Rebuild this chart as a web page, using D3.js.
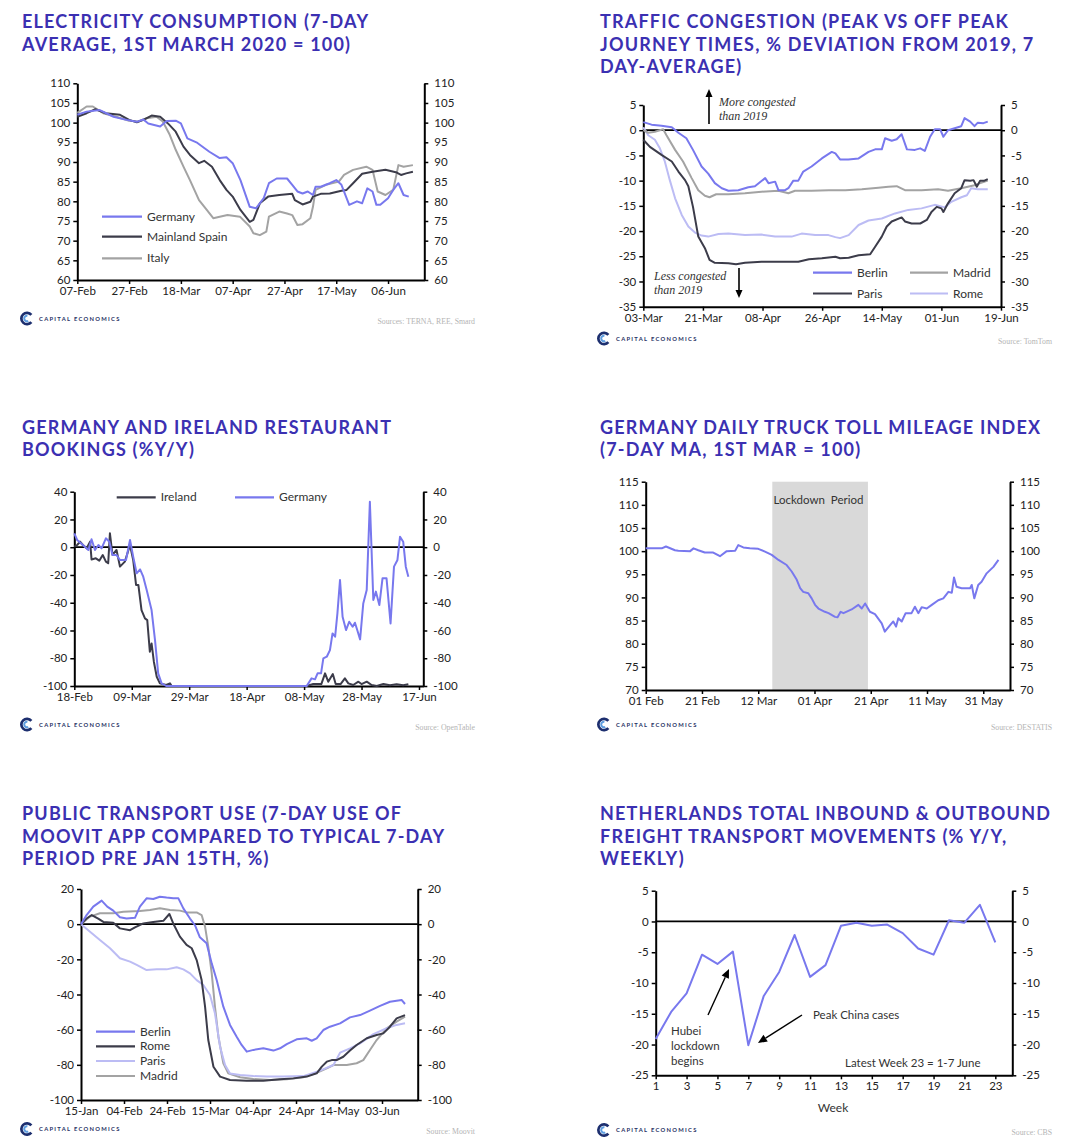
<!DOCTYPE html>
<html><head><meta charset="utf-8">
<script src="https://cdn.jsdelivr.net/npm/d3@7"></script>
<style>
body{margin:0;background:#fff;}
svg{display:block;}
.ax .domain{stroke:#000;stroke-width:2;}
.ax line{stroke:#000;stroke-width:1.5;}
.ax text{font-family:Lato,'Noto Sans',sans-serif;font-size:11.5px;fill:#222;}
</style></head><body>
<svg id="c" width="1067" height="1147"></svg>
<script>
// ---------------- DATA ----------------
// Panel 1: electricity consumption, [days after start, value]
const elecStart = "2020-02-07";
const elecTickLabels = ["07-Feb","27-Feb","18-Mar","07-Apr","27-Apr","17-May","06-Jun"];
const elecYTicks = [60,65,70,75,80,85,90,95,100,105,110];
const elecGermany = [[0,102.0],[3.6,102.8],[8.7,103.2],[14,101.5],[19,100.7],[23,100.2],[25.5,100.8],[27.4,99.8],[32,99.0],[34.5,100.4],[38,100.5],[40,99.8],[42.5,96.0],[46,95.0],[51,92.6],[55,91.0],[57.6,91.2],[60,89.7],[63,85.4],[66.6,78.6],[69,78.2],[72,80.8],[74,84.6],[77,85.8],[81,85.8],[83,84.2],[85,82.5],[87,82.0],[89,82.5],[91,81.6],[92,83.7],[94,83.7],[97.5,84.6],[100,85.4],[102,84.2],[105,79.1],[108,80.0],[110,79.5],[112,83.3],[114,82.5],[115.5,79.1],[117,79.1],[120,80.8],[122,82.9],[124,84.6],[126,81.6],[128,81.2]];
const elecSpain = [[0,101.5],[3.6,102.4],[7,103.4],[11,102.4],[16.5,102],[20,100.7],[23,100.1],[25.5,100.7],[28.7,101.8],[32,101.5],[35,99.8],[38,97.7],[41,93.9],[43.5,91.8],[47,89.7],[49,90.3],[52,88.8],[55,85.4],[57.6,82.9],[60,81.2],[63,77.8],[66.6,74.8],[68,75.3],[70.5,79.5],[73.7,81.2],[78,81.6],[83,81.9],[84,80.3],[87,79.2],[90,79.9],[91,81.2],[94,81.9],[97.5,82],[102,82.7],[104,82.9],[106.5,84.6],[110,87],[114,87.5],[119,88],[123,87.4],[125,86.7],[127,87.1],[129.6,87.5]];
const elecItaly = [[0,102.5],[3.6,104.1],[6,104.1],[10,102.4],[15,101.5],[20,100.5],[23.5,100.3],[26.8,101.1],[30.6,101.5],[33,100.3],[35.7,96.9],[38,93.1],[41,88.8],[43.5,85.4],[47,80.3],[50,77.8],[52.5,75.7],[55,76.1],[58,76.5],[62.8,76.1],[66.6,73.6],[68,71.9],[70.5,71.4],[73,72.3],[74,76.1],[78,77.4],[81,76.9],[83,76.5],[85,74],[87,74.2],[90,75.7],[91,78.6],[92,82.9],[96,84.2],[101,85],[103,86.7],[106.5,88],[111.6,88.8],[114,88],[116,82.5],[119,81.6],[122,82.9],[124,89.2],[126,88.8],[129.6,89.2]];

// Panel 2: traffic congestion
const trafficStart = "2020-03-03";
const trafficTickLabels = ["03-Mar","21-Mar","08-Apr","26-Apr","14-May","01-Jun","19-Jun"];
const trafficYTicks = [-35,-30,-25,-20,-15,-10,-5,0,5];
const trafficBerlin = [[0,1.6],[2.5,1.1],[5.5,0.9],[8.6,0.6],[10.6,-0.5],[13,-1.6],[15,-3.9],[17.6,-7.2],[19.6,-8.6],[21.6,-10.5],[23.7,-11.5],[25.7,-12],[28.7,-11.9],[31.7,-11.3],[33.7,-11.1],[36.8,-9.5],[37.8,-10.5],[39.8,-10.2],[40.8,-11.9],[42.8,-11.9],[43.8,-11.5],[45.3,-10],[46.8,-10],[48.3,-8.2],[50.8,-7.2],[53.9,-5.6],[56.9,-4.3],[58,-4.6],[59.4,-5.8],[61.9,-5.8],[65,-5.6],[68,-4.3],[70,-3.8],[72,-3.8],[73,-1.6],[75,-2.1],[76.5,-1.8],[78,-0.8],[79.6,-3.8],[82,-3.9],[83.6,-3.6],[85,-4.1],[86.6,-1.3],[88,0.2],[89.6,0.2],[90.6,-1.3],[92,0],[94,0.4],[96,0.8],[97,2.4],[98.7,1.7],[100,0.8],[101,1.5],[102.7,1.4],[104,1.7]];
const trafficMadrid = [[0,0],[1.5,-0.5],[3.5,-0.3],[6,0.2],[7,-1],[9.6,-3.9],[12,-6.2],[14.6,-9.5],[16.6,-11.9],[18.6,-13],[20,-13.3],[22,-12.7],[25.7,-12.7],[30.7,-12.5],[35.7,-12.2],[40.8,-12],[43.8,-12.5],[45.8,-12],[50.8,-12],[56,-11.9],[61,-11.9],[66,-11.7],[71,-11.4],[74,-11.2],[76.5,-11.1],[79,-11.9],[84,-11.9],[89,-11.7],[92,-12],[96,-11.5],[100,-10.9],[104,-10]];
const trafficParis = [[0,-1.9],[2,-3.3],[5.5,-4.9],[8.6,-6.2],[10.6,-8.2],[12.6,-9.9],[13.6,-11.1],[15,-15.2],[16.6,-21.1],[18.6,-23.4],[20,-25.7],[21.6,-26.3],[25.7,-26.4],[28,-26.6],[30.7,-26.3],[35.7,-26.1],[40.8,-26.1],[46.8,-26.1],[50,-25.6],[53.9,-25.4],[58,-25.1],[59.4,-25.4],[62,-25.3],[65,-24.8],[68.5,-24.6],[70,-23.1],[72,-21.1],[73.5,-19.1],[75,-18.1],[78,-17.3],[79,-18.1],[81,-18.5],[83.6,-18.5],[85.6,-17.8],[87,-16.2],[88.6,-15.2],[90,-15.5],[90.6,-16.2],[92,-14.5],[94,-12.5],[96,-11.5],[97,-9.9],[98.7,-10],[99.7,-9.9],[100.7,-11.2],[101.7,-10],[103,-10],[104,-9.7]];
const trafficRome = [[0,0.6],[1.5,-1],[3.5,-1.9],[5,-3.6],[6.5,-6.2],[8,-9.9],[9.6,-13.5],[11.6,-16.8],[13.6,-19.1],[15.6,-20.3],[17.6,-20.9],[19.6,-21.1],[22.7,-20.6],[25.7,-20.5],[30.7,-20.8],[35.7,-20.7],[39.8,-21.1],[44.8,-21.1],[47.8,-20.5],[51.9,-20.8],[55.9,-20.8],[58,-21.2],[59.4,-21.4],[62,-20.8],[65,-18.8],[68,-17.9],[72,-17.5],[76,-16.5],[80,-15.8],[84,-15.5],[88,-14.8],[91,-15.3],[93,-14.2],[96,-13.3],[97.7,-12.9],[99,-11.5],[101,-11.7],[104,-11.7]];

// Panel 3: restaurant bookings
const restStart = "2020-02-18";
const restTickLabels = ["18-Feb","09-Mar","29-Mar","18-Apr","08-May","28-May","17-Jun"];
const restYTicks = [-100,-80,-60,-40,-20,0,20,40];
const restIreland = [[0,0.4],[1,1.6],[2,4],[3,1.6],[4.3,-0.8],[5.5,4],[6,-8.8],[7.5,-8],[8.7,-9.7],[9.9,-5.6],[11,-10.4],[11.8,-11.6],[12.4,10],[13.3,-5.6],[14.7,-2],[15.9,-14],[17.6,-10.4],[19.4,1.6],[20.5,-9.2],[21.5,-27.2],[22.3,-27.2],[23.4,-45.3],[24.6,-51.3],[25.4,-52.5],[26.3,-75.3],[26.9,-69.3],[27.7,-82.5],[28.7,-93.3],[29.8,-98.1],[32,-99.3],[33.3,-98.1],[33.9,-100],[80.9,-100],[83.2,-98.6],[86,-98.6],[87.3,-90.9],[88.4,-96.9],[90,-91.4],[91,-98.6],[92.7,-98.6],[94.2,-94.5],[95.4,-98.1],[97.1,-99.3],[98.9,-96.9],[100,-98.6],[101.8,-96.9],[103.5,-99.3],[105.3,-100],[107.6,-98.6],[109.9,-99.5],[112.2,-98.8],[114.5,-99.5],[116.3,-98.8]];
const restGermany = [[0,10],[1,5.2],[3,1.6],[4.9,-2],[6,5.7],[7.2,-2],[8.4,1.6],[9.5,-0.8],[11,6.4],[12.2,4],[13.3,-5.6],[14.7,-5.6],[15.9,-9.2],[18,-9.2],[19.4,5.2],[20.5,-6.8],[21.7,-18.8],[22.9,-16],[24,-21.2],[25.2,-30.8],[26.9,-45.3],[28.1,-66.9],[29.2,-90.9],[30.4,-98.1],[32,-100],[80.9,-100],[82.6,-94.5],[83.8,-95.2],[84.7,-90.9],[85.9,-90.9],[86.7,-80.1],[87.9,-78.9],[89,-74.1],[89.9,-62.1],[90.8,-64.5],[91.6,-47.7],[92.5,-23.6],[93.4,-50.1],[94.6,-59.7],[95.7,-53.7],[96.9,-57.3],[97.7,-54.4],[98.5,-59.7],[99.5,-66.4],[100.6,-40.5],[101.8,-30.8],[102.9,32.8],[104.1,-38],[105,-32],[106.2,-41.7],[107.3,-22.4],[108.7,-22.4],[110.1,-54.9],[111.3,-14],[112.5,-9.2],[113.4,7.6],[114.5,4],[115.4,-14],[116.3,-21.2]];

// Panel 4: truck toll mileage index
const truckStart = "2020-02-01";
const truckTickLabels = ["01 Feb","21 Feb","12 Mar","01 Apr","21 Apr","11 May","31 May"];
const truckYTicks = [70,75,80,85,90,95,100,105,110,115];
const truckLockdown = ["2020-03-17","2020-04-20"];
const truckIndex = [[0,100.6],[5.7,100.6],[7.2,101],[10.4,100.2],[11.6,100.1],[15.8,100],[17,100.6],[18.7,100.2],[21,99.7],[24,99.7],[26.4,98.9],[28.8,100],[31.8,100.1],[32.9,101.3],[34.7,100.8],[37,100.6],[40,100.5],[42.4,99.9],[44.8,99.2],[47.2,98.1],[50.1,97],[51.9,95.6],[53.7,93.8],[54.9,92],[56,91.2],[57.8,90.9],[59,89.8],[60.2,88.4],[61.4,87.6],[63.7,86.9],[65,86.6],[67.3,85.8],[68.2,85.7],[69.3,86.9],[70.3,86.6],[73.2,87.4],[75.6,88.4],[76.8,87.6],[78,88.7],[79.7,86.9],[81.5,86.4],[83.9,84.4],[85,82.6],[87.4,84.4],[88,84.8],[89,83.7],[89.8,85.5],[91,84.8],[92.4,86.6],[94.5,86.6],[95.7,88],[96.9,86.6],[98.1,87.9],[99.9,87.6],[101.7,88.4],[104,89.4],[105.8,89.8],[107.6,91.2],[108.8,91],[109.6,94.3],[110.5,92.3],[112.3,92],[115.3,92],[115.9,92.7],[116.8,89.8],[118.2,92.7],[119.4,93.4],[121.2,95.2],[123.6,96.6],[125.4,98.1]];

// Panel 5: public transport use
const transStart = "2020-01-15";
const transTickLabels = ["15-Jan","04-Feb","24-Feb","15-Mar","04-Apr","24-Apr","14-May","03-Jun"];
const transYTicks = [-100,-80,-60,-40,-20,0,20];
const transBerlin = [[0,0],[2.6,5.2],[5.7,10],[9.6,13.4],[12.2,10],[15,7.7],[18.1,3.9],[21.2,3.2],[25.1,3.6],[27.4,10],[30.5,14.7],[33.6,14.3],[36.7,15.6],[39.8,15.1],[42.9,14.7],[45.3,14.7],[47.6,9],[50.7,3.2],[53,-0.6],[55.3,-7.5],[58.4,-10.9],[60.8,-22.3],[63.1,-31.8],[66.2,-46.9],[69.3,-57.3],[72.4,-64],[74.7,-68.7],[77.1,-72.5],[80.2,-71.5],[84.8,-70.6],[89.5,-71.9],[92.6,-70.6],[95.7,-68.2],[100.3,-65.5],[105,-64.9],[107.3,-66.3],[109.6,-64.9],[112.7,-60.2],[115.8,-58.3],[120.5,-56.4],[125.1,-53],[129.8,-51.7],[134.4,-49.2],[139.1,-46.5],[143.7,-44.1],[149.1,-43.1],[150.7,-45.4]];
const transRome = [[0,0],[2.6,3.2],[5,5.2],[8,3.2],[10.4,1.3],[15,0.8],[18.1,-2.4],[22.8,-3.4],[25.1,-1.8],[29,0.4],[33.6,1.3],[38.3,1.9],[41.1,5.8],[42.9,0.4],[46,-7.1],[49.1,-11.8],[51.5,-13.7],[53.8,-20.4],[56.1,-31.8],[57.7,-46.9],[59.2,-65.9],[61.6,-81.1],[64.7,-86.7],[69.3,-88.6],[77.1,-89],[84.8,-89],[92.6,-88.2],[98.8,-87.7],[105,-86.7],[109.6,-84.8],[112,-81],[114.3,-78.2],[116.6,-77.3],[118.9,-77.3],[122,-75.4],[125.1,-71.9],[128.2,-68.7],[132.9,-64.9],[137.5,-63],[140.6,-62.1],[143.7,-58.3],[146.8,-53.6],[150.7,-51.7]];
const transParis = [[0,0],[4.2,-4.3],[8.8,-9],[13.5,-13.7],[18.1,-19.4],[22.8,-21.3],[25.9,-23.2],[30.5,-26.1],[35.2,-25.7],[39.8,-25.7],[44.5,-24.5],[47.6,-25.7],[50.7,-28],[53.8,-31.8],[56.9,-34.6],[60,-40.3],[62.3,-50.7],[64.7,-69.8],[67,-80.1],[69.3,-84.9],[74,-85.8],[80.2,-86.4],[86.4,-86.7],[94.1,-86.7],[103.4,-86.4],[111.2,-83.3],[117.4,-80.1],[120.5,-73.1],[125.1,-70.6],[129.8,-67.8],[136,-62.5],[142.2,-59.2],[146.8,-57.3],[150.7,-56.4]];
const transMadrid = [[0,0],[4.2,4.3],[8.8,6.2],[15,6.2],[19.7,7.1],[27.4,7.5],[32.1,8.1],[36.7,9],[41.4,8.1],[46,7.7],[49.1,6.7],[53.8,6.7],[56.1,5.2],[57.7,-1.4],[59.2,-12.8],[60.8,-28],[62.3,-46.9],[63.9,-64],[66.2,-79.1],[68.5,-84.8],[74,-87.1],[80.2,-88.1],[87.9,-88.6],[95.7,-88.2],[103.4,-87.1],[109.6,-84.5],[114.3,-82],[117.4,-80.1],[123.6,-80.1],[128.2,-79.1],[131.3,-77.3],[134.4,-71.6],[137.5,-65.9],[142.2,-59.2],[146.8,-55.4],[150.7,-52.6]];

// Panel 6: Netherlands freight movements (% y/y) by week
const freightWeeks = [1,2,3,4,5,6,7,8,9,10,11,12,13,14,15,16,17,18,19,20,21,22,23];
const freightValues = [-19.1,-14.7,-11.7,-5.4,-6.9,-4.9,-20.1,-12.1,-8.2,-2.2,-9.0,-7.1,-0.7,-0.2,-0.7,-0.5,-1.9,-4.4,-5.4,0.2,-0.2,2.7,-3.4];
const freightTicks = [1,3,5,7,9,11,13,15,17,19,21,23];
const freightYTicks = [-25,-20,-15,-10,-5,0,5];

// Titles and sources
const titles = [
  ["ELECTRICITY CONSUMPTION (7-DAY","AVERAGE, 1ST MARCH 2020 = 100)"],
  ["TRAFFIC CONGESTION (PEAK VS OFF PEAK","JOURNEY TIMES, % DEVIATION FROM 2019, 7","DAY-AVERAGE)"],
  ["GERMANY AND IRELAND RESTAURANT","BOOKINGS (%Y/Y)"],
  ["GERMANY DAILY TRUCK TOLL MILEAGE INDEX","(7-DAY MA, 1ST MAR = 100)"],
  ["PUBLIC TRANSPORT USE (7-DAY USE OF","MOOVIT APP COMPARED TO TYPICAL 7-DAY","PERIOD PRE JAN 15TH, %)"],
  ["NETHERLANDS TOTAL INBOUND & OUTBOUND","FREIGHT TRANSPORT MOVEMENTS (% Y/Y,","WEEKLY)"]
];
const sources = ["Sources: TERNA, REE, Smard","Source: TomTom","Source: OpenTable","Source: DESTATIS","Source: Moovit","Source: CBS"];

// ---------------- STYLE ----------------
const BLUE = "#7878ee", DARK = "#3c3c4a", GREY = "#a3a3a3", LIGHT = "#bcbcf4";
const TITLE_COLOR = "#3b30b2";
const LABEL_FONT = "Lato,'Noto Sans',sans-serif";
const NOTE_FONT = "'Liberation Serif',serif";

const svg = d3.select("#c");

function toDate(start, d){ return new Date(new Date(start+"T00:00:00").getTime() + d*864e5); }

function drawTitle(lines, x, y0){
  const t = svg.append("text").attr("x",x).attr("y",y0)
    .attr("font-family","Lato,sans-serif").attr("font-weight","bold")
    .attr("font-size",18).attr("letter-spacing",1.2).attr("fill",TITLE_COLOR);
  lines.forEach((l,i)=>t.append("tspan").attr("x",x).attr("y",y0+i*22.6).text(l));
}

function drawLogo(cx, cy){
  const g = svg.append("g").attr("transform",`translate(${cx},${cy})`);
  g.append("path").attr("d", d3.arc().innerRadius(4.3).outerRadius(7).startAngle(Math.PI*0.72).endAngle(Math.PI*2.28)()).attr("fill","#1d2f6f");
  g.append("path").attr("d", d3.arc().innerRadius(1.8).outerRadius(3.8).startAngle(Math.PI*0.85).endAngle(Math.PI*2.05)()).attr("fill","#5f9ee0");
  g.append("text").attr("x",12).attr("y",2.2).text("CAPITAL ECONOMICS")
    .attr("font-family","Lato,sans-serif").attr("font-weight","bold").attr("font-size",5.8)
    .attr("letter-spacing",1.3).attr("fill","#263063");
}

function drawSource(txt, x, y){
  svg.append("text").attr("x",x).attr("y",y).attr("text-anchor","end").text(txt)
    .attr("font-family",NOTE_FONT).attr("font-size",7.8).attr("fill","#b4b4b4");
}

function arrow(g, x1,y1,x2,y2, hl, hw, sw){
  const a = Math.atan2(y2-y1, x2-x1);
  const bx = x2 - hl*Math.cos(a), by = y2 - hl*Math.sin(a);
  g.append("line").attr("x1",x1).attr("y1",y1).attr("x2",bx).attr("y2",by).attr("stroke","#000").attr("stroke-width",sw);
  const px = -Math.sin(a)*hw/2, py = Math.cos(a)*hw/2;
  g.append("path").attr("d",`M${x2},${y2}L${bx+px},${by+py}L${bx-px},${by-py}Z`).attr("fill","#000");
}

function panel(o){
  const g = svg.append("g");
  const y = d3.scaleLinear().domain(o.yDomain).range([o.yBot, o.yTop]);
  const x = o.time ? d3.scaleTime().domain(o.xDomain).range([o.x0,o.x1])
                   : d3.scaleLinear().domain(o.xDomain).range([o.x0,o.x1]);
  if (o.band){
    g.append("rect").attr("x",x(o.band[0])).attr("width",x(o.band[1])-x(o.band[0]))
      .attr("y",o.yTop).attr("height",o.yBot-o.yTop).attr("fill","#d9d9d9");
  }
  const fmt = d => String(d);
  g.append("g").attr("class","ax").attr("transform",`translate(${o.x0},0)`)
    .call(d3.axisLeft(y).tickValues(o.yTicks).tickFormat(fmt).tickSize(4).tickSizeOuter(0).tickPadding(3));
  g.append("g").attr("class","ax").attr("transform",`translate(${o.x1},0)`)
    .call(d3.axisRight(y).tickValues(o.yTicks).tickFormat(fmt).tickSize(4).tickSizeOuter(0).tickPadding(6));
  g.append("g").attr("class","ax").attr("transform",`translate(0,${o.yBot})`)
    .call(d3.axisBottom(x).tickValues(o.xTickValues).tickFormat((d,i)=>o.xTickLabels[i]).tickSize(4).tickSizeOuter(0).tickPadding(3));
  if (o.zero){
    g.append("line").attr("x1",o.x0).attr("x2",o.x1).attr("y1",y(0)).attr("y2",y(0))
      .attr("stroke","#000").attr("stroke-width",1.8);
  }
  o.series.forEach(s=>{
    const line = d3.line().x(d=>x(o.time ? toDate(o.start,d[0]) : d[0])).y(d=>y(d[1]));
    g.append("path").datum(s.data).attr("d",line).attr("fill","none")
      .attr("stroke",s.color).attr("stroke-width",s.width||2).attr("stroke-linejoin","round");
  });
  (o.legend||[]).forEach(l=>{
    g.append("line").attr("x1",l.x).attr("x2",l.x+l.len).attr("y1",l.y).attr("y2",l.y)
      .attr("stroke",l.color).attr("stroke-width",2.2);
    g.append("text").attr("x",l.x+l.len+5).attr("y",l.y+4).text(l.label)
      .attr("font-family",LABEL_FONT).attr("font-size",12).attr("fill","#333");
  });
  return {g,x,y};
}

function ticksFrom(labels, fmt){ const p = d3.timeParse(fmt); return labels.map(l=>p(l+" 2020")); }

// ---------------- PANELS ----------------
drawTitle(titles[0], 22, 28);
panel({x0:77.3,x1:424.3,yTop:83.3,yBot:280,yDomain:[60,110],yTicks:elecYTicks,time:true,start:elecStart,
  xDomain:[toDate(elecStart,0),toDate(elecStart,134)],xTickValues:ticksFrom(elecTickLabels,"%d-%b %Y"),xTickLabels:elecTickLabels,
  series:[{data:elecItaly,color:GREY},{data:elecSpain,color:DARK},{data:elecGermany,color:BLUE}],
  legend:[{label:"Germany",color:BLUE,x:102,y:216.7,len:40},{label:"Mainland Spain",color:DARK,x:102,y:236.7,len:40},{label:"Italy",color:GREY,x:102,y:258.3,len:40}]});
drawLogo(27,318.5); drawSource(sources[0],475,324);

drawTitle(titles[1], 600, 28);
const p2 = panel({x0:643.3,x1:1001,yTop:105,yBot:306.7,yDomain:[-35,5],yTicks:trafficYTicks,time:true,start:trafficStart,zero:true,
  xDomain:[toDate(trafficStart,0),toDate(trafficStart,108)],xTickValues:ticksFrom(trafficTickLabels,"%d-%b %Y"),xTickLabels:trafficTickLabels,
  series:[{data:trafficRome,color:LIGHT},{data:trafficMadrid,color:GREY},{data:trafficParis,color:DARK},{data:trafficBerlin,color:BLUE}],
  legend:[{label:"Berlin",color:BLUE,x:813,y:272.7,len:39},{label:"Madrid",color:GREY,x:910,y:272.7,len:38},{label:"Paris",color:DARK,x:813,y:293.5,len:39},{label:"Rome",color:LIGHT,x:910,y:293.5,len:38}]});
arrow(p2.g, 709,124, 709,89, 8, 7, 1.6);
arrow(p2.g, 739,268, 739,298, 8, 7, 1.6);
[["More congested",719,105.5],["than 2019",719,120]].forEach(t=>p2.g.append("text").attr("x",t[1]).attr("y",t[2]).text(t[0])
  .attr("font-family",NOTE_FONT).attr("font-style","italic").attr("font-size",12).attr("fill","#333"));
[["Less congested",654,279.5],["than 2019",654,294]].forEach(t=>p2.g.append("text").attr("x",t[1]).attr("y",t[2]).text(t[0])
  .attr("font-family",NOTE_FONT).attr("font-style","italic").attr("font-size",12).attr("fill","#333"));
drawLogo(604,338.5); drawSource(sources[1],1052,344);

drawTitle(titles[2], 22, 433.5);
panel({x0:74.3,x1:423.3,yTop:491.7,yBot:686,yDomain:[-100,40],yTicks:restYTicks,time:true,start:restStart,zero:true,
  xDomain:[toDate(restStart,0),toDate(restStart,121.5)],xTickValues:ticksFrom(restTickLabels,"%d-%b %Y"),xTickLabels:restTickLabels,
  series:[{data:restIreland,color:DARK},{data:restGermany,color:BLUE}],
  legend:[{label:"Ireland",color:DARK,x:116.7,y:497.3,len:39},{label:"Germany",color:BLUE,x:235,y:497.3,len:39}]});
drawLogo(27,724.5); drawSource(sources[2],475,729.5);

drawTitle(titles[3], 600, 433.5);
const p4 = panel({x0:645.7,x1:1010,yTop:481.7,yBot:690,yDomain:[70,115],yTicks:truckYTicks,time:true,start:truckStart,
  band:truckLockdown.map(s=>new Date(s+"T00:00:00")),
  xDomain:[toDate(truckStart,0),toDate(truckStart,129.5)],xTickValues:ticksFrom(truckTickLabels,"%d %b %Y"),xTickLabels:truckTickLabels,
  series:[{data:truckIndex,color:BLUE}]});
p4.g.append("text").attr("x",818.5).attr("y",504).attr("text-anchor","middle").text("Lockdown Period")
  .attr("font-family",LABEL_FONT).attr("font-size",11.5).attr("word-spacing",3).attr("fill","#333");
drawLogo(604,724.5); drawSource(sources[3],1052,729.5);

drawTitle(titles[4], 22, 820);
panel({x0:81,x1:417.7,yTop:889,yBot:1100,yDomain:[-100,20],yTicks:transYTicks,time:true,start:transStart,zero:true,
  xDomain:[toDate(transStart,0),toDate(transStart,156.6)],xTickValues:ticksFrom(transTickLabels,"%d-%b %Y"),xTickLabels:transTickLabels,
  series:[{data:transMadrid,color:GREY},{data:transParis,color:LIGHT},{data:transRome,color:DARK},{data:transBerlin,color:BLUE}],
  legend:[{label:"Berlin",color:BLUE,x:96,y:1031.7,len:39},{label:"Rome",color:DARK,x:96,y:1046.3,len:39},{label:"Paris",color:LIGHT,x:96,y:1061,len:39},{label:"Madrid",color:GREY,x:96,y:1076,len:39}]});
drawLogo(27,1129); drawSource(sources[4],475,1133.5);

drawTitle(titles[5], 600, 820);
const p6 = panel({x0:655.7,x1:1012.3,yTop:890.7,yBot:1075.3,yDomain:[-25,5],yTicks:freightYTicks,time:false,zero:true,
  xDomain:[1,24.1],xTickValues:freightTicks,xTickLabels:freightTicks.map(String),
  series:[{data:freightWeeks.map((w,i)=>[w,freightValues[i]]),color:BLUE}]});
p6.g.append("text").attr("x",833).attr("y",1112).attr("text-anchor","middle").text("Week")
  .attr("font-family",LABEL_FONT).attr("font-size",12).attr("fill","#333");
arrow(p6.g, 708,1015, 729,969, 9, 8, 1.4);
arrow(p6.g, 802,1015, 758,1043, 9, 8, 1.4);
[["Hubei",671,1035],["lockdown",671,1050],["begins",671,1064.5]].forEach(t=>p6.g.append("text").attr("x",t[1]).attr("y",t[2]).text(t[0])
  .attr("font-family",LABEL_FONT).attr("font-size",11.5).attr("fill","#333"));
p6.g.append("text").attr("x",813).attr("y",1019).text("Peak China cases")
  .attr("font-family",LABEL_FONT).attr("font-size",11.5).attr("fill","#333");
p6.g.append("text").attr("x",845).attr("y",1067).text("Latest Week 23 = 1-7 June")
  .attr("font-family",LABEL_FONT).attr("font-size",11.5).attr("fill","#333");
drawLogo(604,1130); drawSource(sources[5],1052,1134.5);
</script></body></html>
